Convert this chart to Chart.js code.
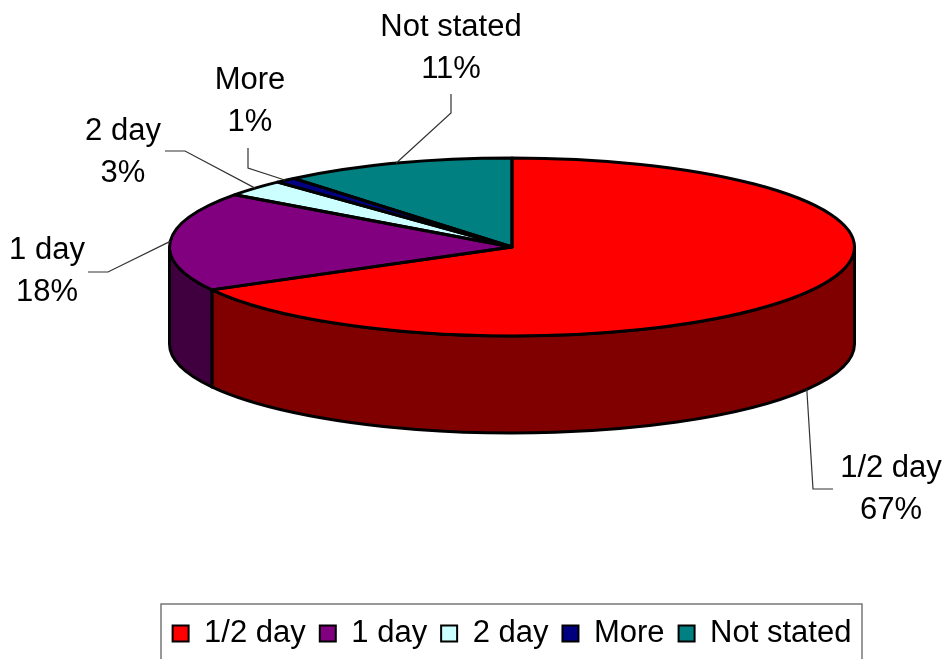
<!DOCTYPE html>
<html>
<head>
<meta charset="utf-8">
<style>
  html, body { margin: 0; padding: 0; background: #fff; overflow: hidden; }
  #wrap { width: 948px; height: 659px; }
</style>
<script src="https://cdn.jsdelivr.net/npm/chart.js@4"></script>
</head>
<body>
<div id="wrap"><canvas id="pieChart" width="948" height="659"></canvas></div>
<script>
const categories = ["1/2 day", "1 day", "2 day", "More", "Not stated"];
const shares = [67, 18, 3, 1, 11];
const topColors = ["#ff0000", "#800080", "#ccffff", "#000080", "#008080"];
const wallColors = ["#800000", "#400040", "#668080", "#000040", "#004040"];

const FONT = "Liberation Sans, Arial, sans-serif";
const LABEL_SIZE = 31;
const RADIUS = 342.5;
const CENTER_Y = 247;
const TILT = 89 / 342.5;
const DEPTH = 97;
const OUTLINE = 3;

// where each label sits, and the elbow of its leader line
const labelBoxes = [
  { x: 891, y: 468, elbow: [[833, 489], [813, 489]] },
  { x: 47, y: 250, elbow: [[88, 272], [108, 272]] },
  { x: 123, y: 131, elbow: [[165, 151], [185, 151]] },
  { x: 250, y: 80, elbow: [[248, 148], [248, 168]] },
  { x: 451, y: 27, elbow: [[451, 94], [451, 113]] },
];

function traceSlice(ctx, arc) {
  const ry = RADIUS * TILT;
  ctx.beginPath();
  ctx.moveTo(arc.x, CENTER_Y);
  ctx.ellipse(arc.x, CENTER_Y, RADIUS, ry, 0, arc.startAngle, arc.endAngle);
  ctx.closePath();
}

// pie lying on its side: walls first, then the squashed top, then outlines
const tiltedPie = {
  id: "tiltedPie",
  beforeDatasetsDraw(chart) {
    const ctx = chart.ctx;
    const arcs = chart.getDatasetMeta(0).data;
    const ry = RADIUS * TILT;
    ctx.save();
    ctx.lineWidth = OUTLINE;
    ctx.strokeStyle = "#000";
    ctx.lineJoin = "round";
    arcs.forEach((arc, i) => {
      const a = Math.max(arc.startAngle, 0);
      const b = Math.min(arc.endAngle, Math.PI);
      if (b <= a) return;
      ctx.beginPath();
      ctx.ellipse(arc.x, CENTER_Y, RADIUS, ry, 0, a, b);
      ctx.ellipse(arc.x, CENTER_Y + DEPTH, RADIUS, ry, 0, b, a, true);
      ctx.closePath();
      ctx.fillStyle = wallColors[i];
      ctx.fill();
      ctx.stroke();
    });
    ctx.restore();

    const first = arcs[0];
    ctx.save();
    ctx.translate(first.x, CENTER_Y);
    ctx.scale(1, TILT);
    ctx.translate(-first.x, -first.y);
  },
  afterDatasetsDraw(chart) {
    const ctx = chart.ctx;
    ctx.restore();
    ctx.save();
    ctx.lineWidth = OUTLINE;
    ctx.strokeStyle = "#000";
    ctx.lineJoin = "round";
    chart.getDatasetMeta(0).data.forEach((arc) => {
      traceSlice(ctx, arc);
      ctx.stroke();
    });
    ctx.restore();
  },
};

const sliceLabels = {
  id: "sliceLabels",
  afterDraw(chart) {
    const ctx = chart.ctx;
    const arcs = chart.getDatasetMeta(0).data;
    const ry = RADIUS * TILT;
    ctx.save();
    ctx.font = LABEL_SIZE + "px " + FONT;
    ctx.textAlign = "center";
    ctx.textBaseline = "middle";
    arcs.forEach((arc, i) => {
      const box = labelBoxes[i];
      const mid = (arc.startAngle + arc.endAngle) / 2;
      const tipX = arc.x + Math.cos(mid) * RADIUS;
      let tipY = CENTER_Y + Math.sin(mid) * ry;
      if (Math.sin(mid) > 0) tipY += DEPTH;

      ctx.beginPath();
      ctx.moveTo(box.elbow[0][0], box.elbow[0][1]);
      ctx.lineTo(box.elbow[1][0], box.elbow[1][1]);
      ctx.lineTo(tipX, tipY);
      ctx.strokeStyle = "#333";
      ctx.lineWidth = 1.2;
      ctx.stroke();

      ctx.fillStyle = "#000";
      ctx.fillText(categories[i], box.x, box.y);
      ctx.fillText(shares[i] + "%", box.x, box.y + 42);
    });

    // legend frame, its lower edge runs off the page
    ctx.strokeStyle = "#777";
    ctx.lineWidth = 1.5;
    ctx.strokeRect(161, 604, 701, 80);
    ctx.restore();
  },
};

new Chart(document.getElementById("pieChart"), {
  type: "pie",
  data: {
    labels: categories,
    datasets: [
      {
        data: shares,
        backgroundColor: topColors,
        borderWidth: 0,
        clip: false,
      },
    ],
  },
  options: {
    responsive: false,
    animation: false,
    radius: RADIUS,
    layout: { padding: { left: 76, right: 0, top: 0, bottom: 0 } },
    plugins: {
      tooltip: { enabled: false },
      legend: {
        position: "bottom",
        labels: {
          color: "#000",
          boxWidth: 16,
          boxHeight: 16,
          padding: 14,
          font: { family: FONT, size: LABEL_SIZE },
          generateLabels(chart) {
            return Chart.overrides.pie.plugins.legend.labels
              .generateLabels(chart)
              .map((item) => ({ ...item, strokeStyle: "#000", lineWidth: 2 }));
          },
        },
      },
    },
  },
  plugins: [tiltedPie, sliceLabels],
});
</script>
</body>
</html>
